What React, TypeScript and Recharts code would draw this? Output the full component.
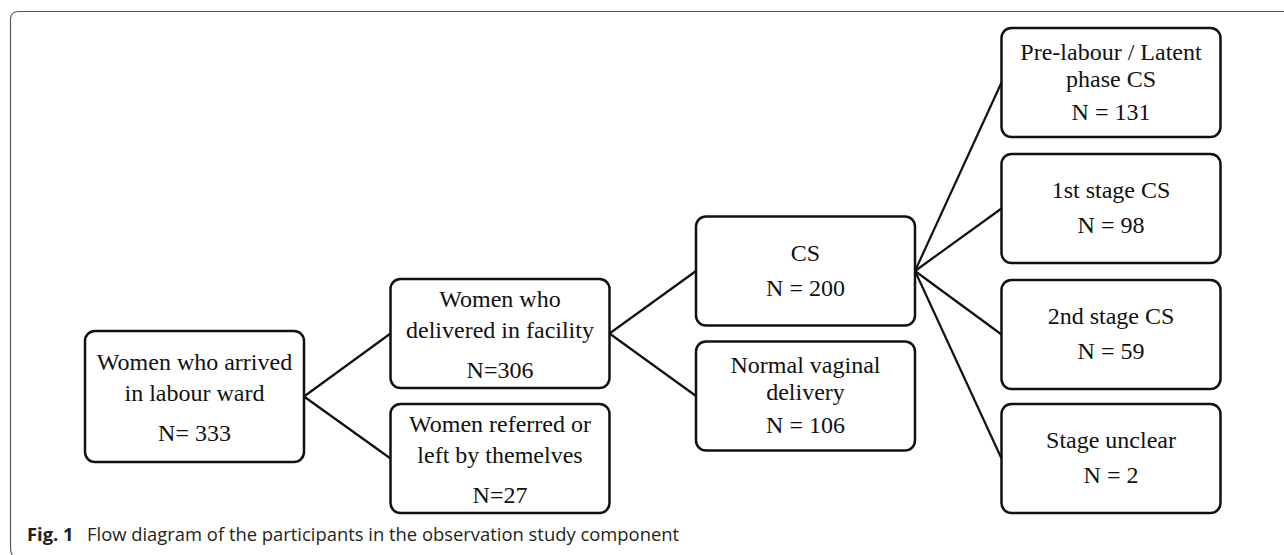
import React from "react";
import { ScatterChart, Scatter, XAxis, YAxis, ReferenceLine } from "recharts";

// flow diagram: each box is a node, each connector a link between two nodes
const nodeLabels: string[][] = [
  ["Women who arrived", "in labour ward"],
  ["Women who", "delivered in facility"],
  ["Women referred or", "left by themelves"],
  ["CS"],
  ["Normal vaginal", "delivery"],
  ["Pre-labour / Latent", "phase CS"],
  ["1st stage CS"],
  ["2nd stage CS"],
  ["Stage unclear"],
];
const nodeCounts = ["N= 333", "N=306", "N=27", "N = 200", "N = 106", "N = 131", "N = 98", "N = 59", "N = 2"];
const nodeStage = [0, 1, 1, 2, 2, 3, 3, 3, 3];
const nodeLevel = [396.5, 333.5, 458.5, 271, 396, 82.5, 208.5, 334.5, 458.5];
const linkFrom = [0, 0, 1, 1, 3, 3, 3, 3];
const linkTo = [1, 2, 3, 4, 5, 6, 7, 8];

const W = 1284;
const H = 555;
const CHART_H = 600; // y domain 0..600 keeps the level scale 1:1 with pixels
const MARGIN = { top: 0, right: 173, bottom: 0, left: 194.5 };
const STAGE_PX = (W - MARGIN.left - MARGIN.right) / 3;
const BOX_W = 219;
const BOX_H = 109;
const TALL_H = 131;
const HALF_W = BOX_W / 2 / STAGE_PX;
const SERIF = '"Liberation Serif", "Times New Roman", serif';

const nodes = nodeLabels.map((label, i) => ({
  id: i,
  label,
  count: nodeCounts[i],
  stage: nodeStage[i],
  level: nodeLevel[i],
}));

function NodeBox(props: any) {
  const { cx, cy, payload } = props;
  if (cx == null || cy == null) return null;
  const h = payload.id === 0 ? TALL_H : BOX_H;
  const lines: string[] = payload.label;
  let offs: number[];
  if (lines.length === 1) offs = [-10.5, 24.5];
  else if (payload.id <= 2) offs = [-27, 4, 44.5];
  else offs = [-23, 4, 37];
  const texts = [...lines, payload.count];
  return (
    <g>
      <rect x={cx - BOX_W / 2} y={cy - h / 2} width={BOX_W} height={h} rx={10} ry={10}
        fill="#fff" stroke="#111" strokeWidth={2.5} />
      {texts.map((t, k) => (
        <text key={k} x={cx} y={cy + offs[k]} textAnchor="middle" fontFamily={SERIF} fontSize={24} fill="#111">
          {t}
        </text>
      ))}
    </g>
  );
}

export default function App() {
  return (
    <div style={{ position: "absolute", left: 0, top: 0, width: W, height: H, background: "#fff", overflow: "hidden" }}>
      <svg width={W} height={H} style={{ position: "absolute", left: 0, top: 0 }}>
        <path d={`M ${W + 2} 11.5 L 18.5 11.5 Q 10.5 11.5 10.5 19.5 L 10.5 546 Q 10.5 554 13 556`}
          fill="none" stroke="#5a5a5a" strokeWidth={1.2} />
        <text x={27} y={541} fontFamily='"Open Sans", sans-serif' fontSize={18.4} fill="#231f20">
          <tspan fontWeight="bold">Fig. 1</tspan>
          <tspan x={87}>Flow diagram of the participants in the observation study component</tspan>
        </text>
      </svg>
      <div style={{ position: "absolute", left: 0, top: 0 }}>
        <ScatterChart width={W} height={CHART_H} margin={MARGIN}>
          <XAxis type="number" dataKey="stage" domain={[0, 3]} hide />
          <YAxis type="number" dataKey="level" domain={[0, CHART_H]} reversed hide />
          {linkFrom.map((f, i) => {
            const t = linkTo[i];
            return (
              <ReferenceLine key={i} ifOverflow="visible" stroke="#111" strokeWidth={2.2}
                segment={[
                  { x: nodeStage[f] + HALF_W, y: nodeLevel[f] },
                  { x: nodeStage[t] - HALF_W, y: nodeLevel[t] },
                ]} />
            );
          })}
          <Scatter data={nodes} dataKey="level" shape={NodeBox} isAnimationActive={false} />
        </ScatterChart>
      </div>
    </div>
  );
}
